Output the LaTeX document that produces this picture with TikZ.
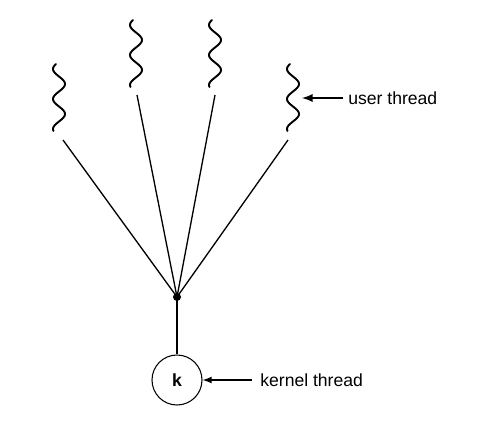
\documentclass[tikz,border=0pt]{standalone}
\usepackage{fontspec}
\setmainfont{Liberation Sans}
\usepackage{tikz}

\begin{document}
\begin{tikzpicture}[>=latex,
  wave/.style={line width=1.1pt,line cap=round},
  spoke/.style={line width=0.75pt},
  label/.style={font=\fontsize{10}{12}\selectfont,anchor=west,inner sep=0pt}]
\useasboundingbox (0,0) rectangle (9.88,8.54);
% user threads drawn as wavy lines
  \foreach \px/\py in {1.18/7.26,2.72/8.14,4.30/8.14,5.86/7.26} {
    \draw[wave] plot[domain=0:1.34,samples=80] ({\px+0.12*sin(600*(\x-0.25))},{\py-\x});
  }
  \coordinate (hub) at (3.54,2.60);
  \coordinate (ta) at (1.26,5.74);
  \coordinate (tb) at (2.74,6.64);
  \coordinate (tc) at (4.30,6.64);
  \coordinate (td) at (5.76,5.74);
  \foreach \t in {ta,tb,tc,td} { \draw[spoke] (\t) -- (hub); }
  \fill (hub) circle (0.08);
% kernel thread
  \node[circle,draw,line width=0.6pt,minimum size=1.0cm,inner sep=0pt,
        font=\fontsize{10}{12}\selectfont\bfseries] (k) at (3.54,0.94) {k};
  \draw[line width=1.4pt] (hub) -- (k);
  \coordinate (ua) at (6.86,6.58);
  \coordinate (ka) at (5.04,0.94);
  \node[label] (user) at (6.96,6.58) {user thread};
  \node[label] (kern) at (5.20,0.94) {kernel thread};
  \draw[->,line width=1.1pt] (ua) -- (6.04,6.58);
  \draw[->,line width=0.8pt] (ka) -- (k);
\end{tikzpicture}
\end{document}
